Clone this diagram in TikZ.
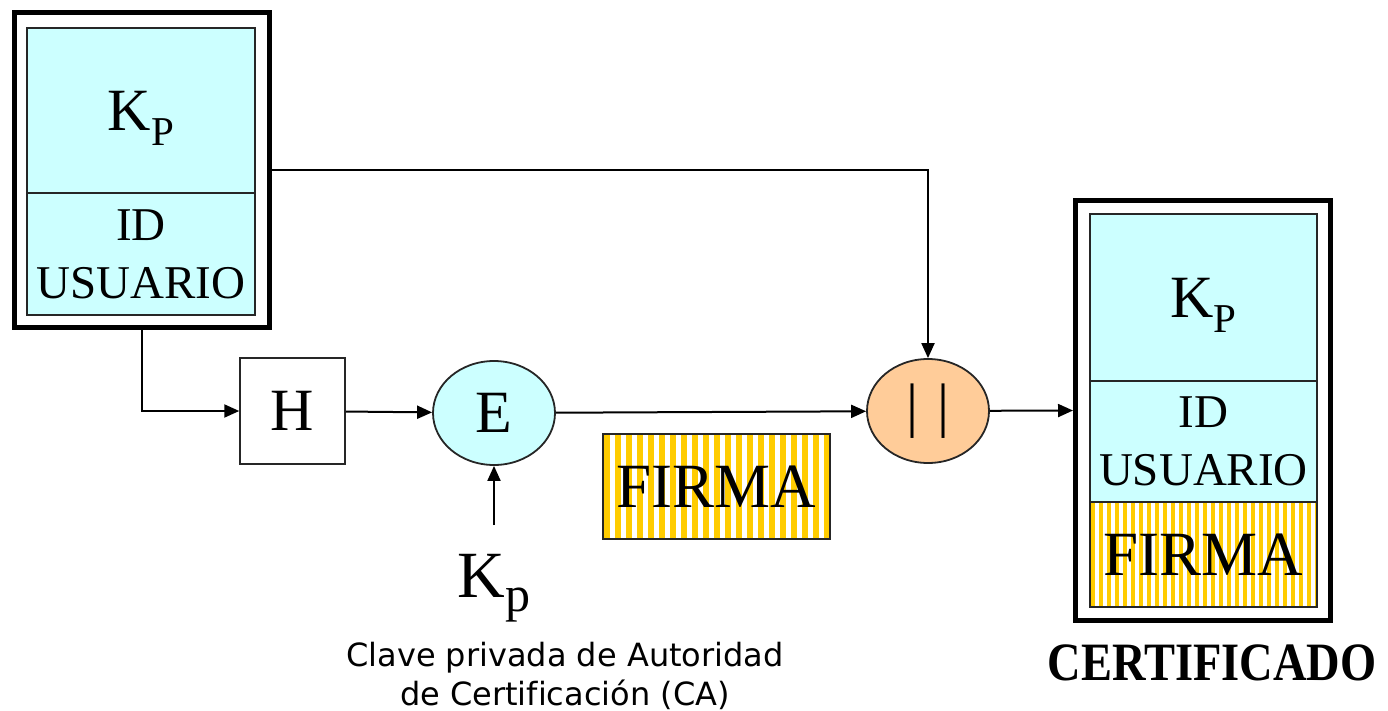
\documentclass[tikz,border=0pt]{standalone}
\usepackage{fontspec}
\setmainfont{Liberation Serif}
\newfontfamily\capfont[Ligatures=NoCommon]{DejaVu Sans}
\usetikzlibrary{arrows.meta, shapes.geometric}
\definecolor{certcyan}{HTML}{CCFFFF}
\definecolor{certorange}{HTML}{FFCC99}
\definecolor{firmagold}{HTML}{FFCC00}
\tikzset{
  holder/.style={rectangle, draw=black, line width=5pt, fill=white, inner sep=0pt},
  cell/.style={rectangle, draw=black!85, line width=1.5pt, fill=certcyan,
               inner sep=0pt, align=center},
  firma/.style={rectangle, draw=black!85, line width=1.5pt, fill=white, inner sep=0pt,
               font=\fontsize{63}{63}\selectfont,
               path picture={\foreach \s in {0,...,40}
                 \fill[firmagold] ([xshift=\s*#1pt+1pt]path picture bounding box.north west)
                   rectangle ++(0.55*#1pt,-150pt);}},
  firma/.default=10,
  opbox/.style={rectangle, draw=black!85, line width=1.5pt, inner sep=0pt,
               minimum width=105pt, minimum height=106pt, font=\fontsize{60}{60}\selectfont},
  opell/.style={ellipse, draw=black!85, line width=1.8pt, fill=#1, inner sep=0pt,
               minimum width=122pt, minimum height=104pt, font=\fontsize{60}{60}\selectfont},
  big/.style={font=\fontsize{60}{60}\selectfont, text depth=0pt},
  usr/.style={font=\fontsize{47}{58}\selectfont},
  arr/.style={-{Triangle[length=15pt, width=13pt]}, line width=2pt},
}
\newcommand{\kpub}{K\raisebox{-15pt}{\fontsize{41}{41}\selectfont P}}

\begin{document}
\begin{tikzpicture}[x=1pt, y=-1pt]
  \useasboundingbox (0,0) rectangle (1388,711);

  % --- user data (left) ---
  \node[holder, minimum width=255pt, minimum height=315pt] (user) at (141.75,170) {};
  \node[cell, big, minimum width=228pt, minimum height=165pt] (kpa) at (141,110.5) {\kpub};
  \node[cell, usr, minimum width=228pt, minimum height=122pt] (ida) at (141,254) {ID\\USUARIO};

  % --- hash and encryption ---
  \node[opbox] (hash) at (292.5,411) {H};
  \node[opell=certcyan] (enc) at (494,413) {E};
  \coordinate (kin) at (494,525);
  \node[font=\fontsize{66}{66}\selectfont] (kpriv) at (494,588)
    {K\raisebox{-14pt}{\fontsize{50}{50}\selectfont p}};
  \node[font=\capfont\fontsize{32}{39}\selectfont, align=center] (capt) at (565,676)
    {Clave privada de Autoridad\\de Certificación (CA)};

  % --- signature and concatenation ---
  \node[firma=11, minimum width=227pt, minimum height=105pt] (sig) at (716.5,486.5) {FIRMA};
  \node[opell=certorange] (cat) at (928,411) {|\,\,|};

  % --- certificate (right) ---
  \node[holder, minimum width=255pt, minimum height=420pt] (cert) at (1203,410.5) {};
  \node[cell, big, minimum width=227pt, minimum height=167pt] (kpb) at (1203.5,297.5) {\kpub};
  \node[cell, usr, minimum width=227pt, minimum height=121pt] (idb) at (1203.5,441.5) {ID\\USUARIO};
  \node[firma=8, minimum width=227pt, minimum height=105pt] (sigb) at (1203.5,554.5) {FIRMA};
  \node[anchor=base, font=\bfseries\fontsize{54}{54}\selectfont] (certlbl) at (1212,680)
    {\scalebox{0.86}[1]{CERTIFICADO}};

  % --- connectors ---
  \draw[arr] (user.south) |- (hash.west);
  \draw[arr] (hash) -- (enc);
  \draw[arr] (kin) -- (enc.south);
  \draw[arr] (enc) -- (cat);
  \draw[arr] (user.east) -| (cat.north);
  \draw[arr] (cat) -- (cert.west);
\end{tikzpicture}
\end{document}
